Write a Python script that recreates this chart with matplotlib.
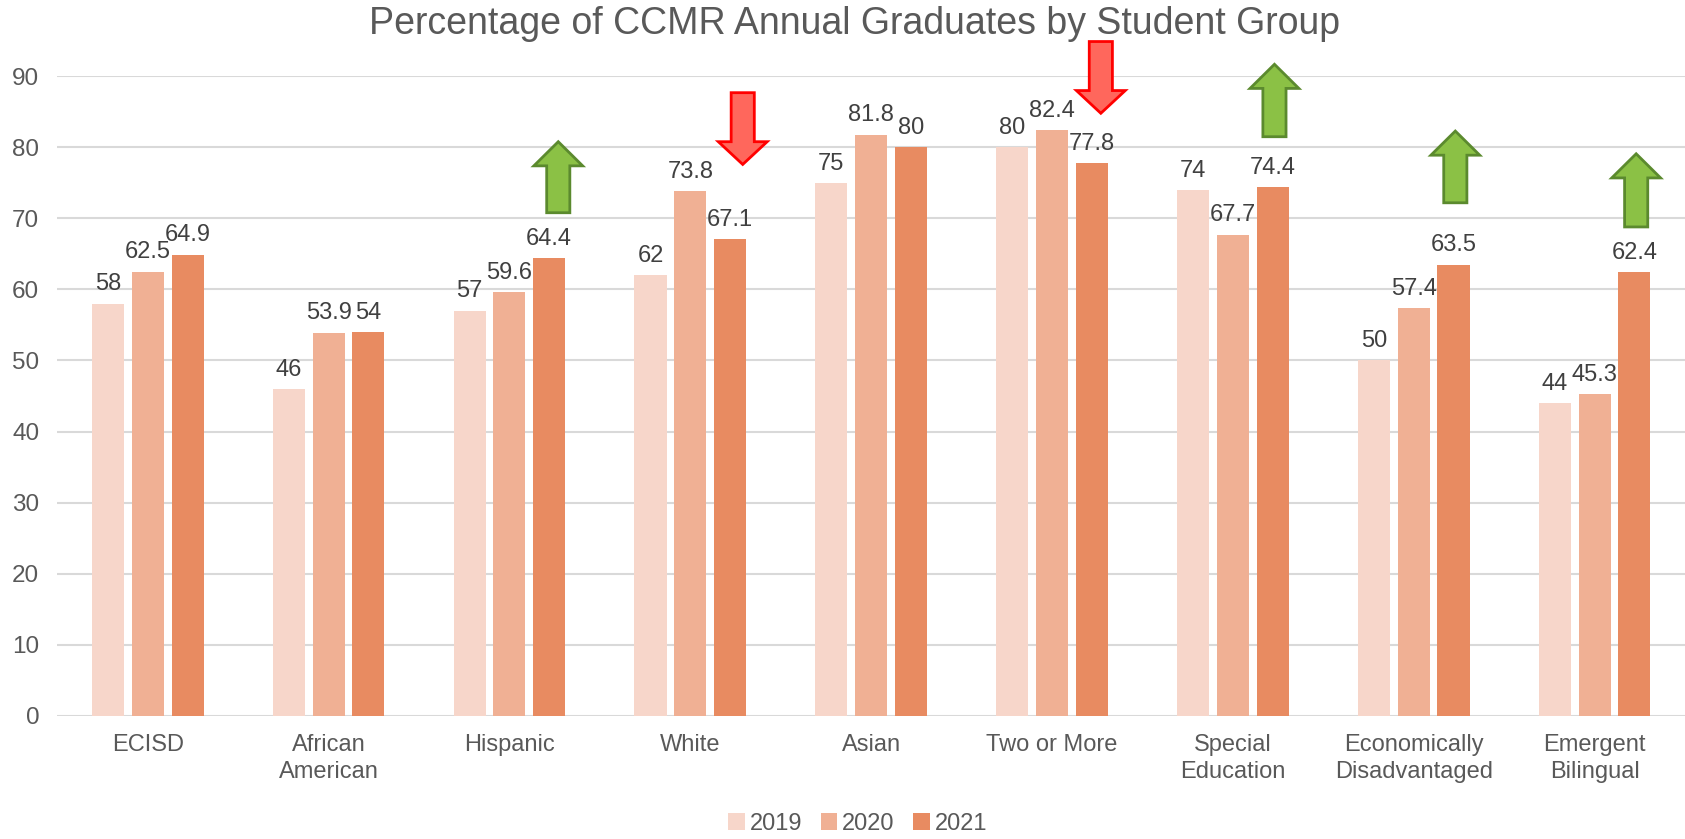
import numpy as np
import matplotlib
matplotlib.use("Agg")
import matplotlib.pyplot as plt
from matplotlib.patches import Polygon

plt.rcParams['font.family'] = ['Liberation Sans', 'DejaVu Sans']

groups = ["ECISD", "African\nAmerican", "Hispanic", "White", "Asian", "Two or More",
          "Special\nEducation", "Economically\nDisadvantaged", "Emergent\nBilingual"]
years = ["2019", "2020", "2021"]
v2019 = [58, 46, 57, 62, 75, 80, 74, 50, 44]
v2020 = [62.5, 53.9, 59.6, 73.8, 81.8, 82.4, 67.7, 57.4, 45.3]
v2021 = [64.9, 54, 64.4, 67.1, 80, 77.8, 74.4, 63.5, 62.4]
colors = ["#F7D6CA", "#F0B094", "#E88B61"]

# trend arrows drawn over the chart: (group index, direction, y low, y high)
arrows = [(2, "up", 70.8, 80.8), (3, "down", 77.6, 87.7), (5, "down", 84.8, 94.9),
          (6, "up", 81.5, 91.7), (7, "up", 72.2, 82.3), (8, "up", 68.8, 79.1)]

fig = plt.figure(figsize=(16.85, 8.39), dpi=100)
ax = fig.add_axes([0.034, 0.147, 0.966, 0.762])

x = np.arange(len(groups))
w = 0.177
step = 0.22
for i, vals in enumerate([v2019, v2020, v2021]):
    bars = ax.bar(x + (i - 1) * step, vals, w, color=colors[i], label=years[i], zorder=2)
    ax.bar_label(bars, labels=[f"{v:g}" for v in vals], padding=6, fontsize=17, color="#404040")

def draw_arrow(xc, direction, lo, hi):
    sw, hw = 0.064, 0.135
    head = 3.4 if direction == "up" else 3.2
    if direction == "up":
        pts = [(xc - sw, lo), (xc + sw, lo), (xc + sw, hi - head), (xc + hw, hi - head),
               (xc, hi), (xc - hw, hi - head), (xc - sw, hi - head)]
        fc, ec = "#8BC145", "#5B8A2E"
    else:
        pts = [(xc - sw, hi), (xc + sw, hi), (xc + sw, lo + head), (xc + hw, lo + head),
               (xc, lo), (xc - hw, lo + head), (xc - sw, lo + head)]
        fc, ec = "#FF675C", "#FF0000"
    ax.add_patch(Polygon(pts, closed=True, facecolor=fc, edgecolor=ec, linewidth=2,
                         clip_on=False, zorder=5))

for gi, d, lo, hi in arrows:
    off = 0.27 if gi in (2, 3, 5) else 0.23
    if gi == 3:
        off = 0.29
    draw_arrow(gi + off, d, lo, hi)

ax.set_xlim(-0.5, len(groups) - 0.5)
ax.set_ylim(0, 90)
ax.set_yticks(range(0, 91, 10))
ax.set_xticks(x)
ax.set_xticklabels(groups, fontsize=17, color="#595959", linespacing=1.3)
ax.tick_params(axis="y", labelsize=17.5, labelcolor="#595959", length=0, pad=13)
ax.tick_params(axis="x", length=0, pad=13)
ax.yaxis.grid(True, color="#D9D9D9", linewidth=1.5, zorder=0)
ax.set_axisbelow(True)
for s in ax.spines.values():
    s.set_visible(False)

fig.suptitle("Percentage of CCMR Annual Graduates by Student Group", fontsize=27,
             color="#595959", x=0.507, y=0.993, va="top")
fig.legend(loc="lower center", bbox_to_anchor=(0.509, -0.02), ncol=3, frameon=False,
           fontsize=17, labelcolor="#595959", handlelength=0.7, handleheight=0.7,
           handletextpad=0.2, columnspacing=0.8)

fig.savefig("out.png", dpi=100)
